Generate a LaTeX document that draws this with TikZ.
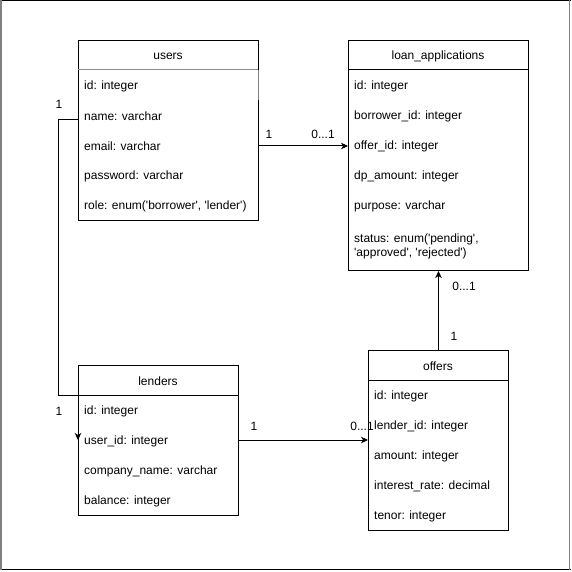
\documentclass[tikz,border=0pt]{standalone}
\usepackage{fontspec}
\setmainfont{Liberation Sans}
\usetikzlibrary{arrows.meta}
\newcommand{\sq}{\textquotesingle}
\begin{document}
\begin{tikzpicture}[x=1pt,y=-1pt,
  every node/.style={font=\fontsize{12}{14}\selectfont, text=black},
  table/.style={draw=black, line width=1pt, fill=white, inner sep=0pt, anchor=north west},
  title/.style={inner sep=0pt, anchor=center},
  field/.style={inner sep=0pt, anchor=west, align=left},
  card/.style={inner sep=0pt, anchor=center},
  link/.style={draw=black, line width=1pt, -{Stealth[length=7pt,width=6.5pt,inset=2pt]}}]
\useasboundingbox (0,0) rectangle (571,572);
% outer frame
\draw[black, line width=1.2pt] (0,0.6) -- (571,0.6);
\draw[black, line width=1.2pt] (0,569.6) -- (571,569.6);
\draw[gray, line width=1.6pt] (0.8,0) -- (0.8,570.2);
\draw[gray, line width=1.6pt] (569.6,0) -- (569.6,570.2);

% users
\node[table, minimum width=180pt, minimum height=180pt] (users) at (78,40) {};
\draw[gray!90, line width=1pt] (78,70) -- (258,70);
\draw[white, line width=1.2pt] (258,71) -- (258,100);
\draw[gray, line width=1pt] (258,70) -- (258,100);
\node[title] (usersT) at (168,56.5) {users};
\node[field] (uid)   at (84,86.5)  {id: integer};
\node[field] (uname) at (84,116.5) {name: varchar};
\node[field] (umail) at (84,146.5) {email: varchar};
\node[field] (upass) at (84,176.5) {password: varchar};
\node[field] (urole) at (84,206.5) {role: enum(\sq borrower\sq, \sq lender\sq)};

% loan_applications
\node[table, minimum width=180pt, minimum height=230pt] (loan) at (348,40) {};
\draw[black, line width=1pt] (348,70) -- (528,70);
\node[title] (loanT) at (438,56.5) {loan\_applications};
\node[field] (lid)   at (354,86.5)  {id: integer};
\node[field] (lbor)  at (354,116.5) {borrower\_id: integer};
\node[field] (loff)  at (354,146.5) {offer\_id: integer};
\node[field] (ldp)   at (354,176.5) {dp\_amount: integer};
\node[field] (lpur)  at (354,206.5) {purpose: varchar};
\node[field] (lstat) at (354,246.5) {status: enum(\sq pending\sq,\\\sq approved\sq, \sq rejected\sq)};

% lenders
\node[table, minimum width=160pt, minimum height=150pt] (lenders) at (78,365) {};
\draw[black, line width=1pt] (78,395) -- (238,395);
\node[title] (lendT) at (158,381.5) {lenders};
\node[field] (nid)   at (84,411.5) {id: integer};
\node[field] (nuid)  at (84,441.5) {user\_id: integer};
\node[field] (ncomp) at (84,471.5) {company\_name: varchar};
\node[field] (nbal)  at (84,501.5) {balance: integer};

% offers
\node[table, minimum width=140pt, minimum height=180pt] (offers) at (368,350) {};
\draw[black, line width=1pt] (368,380) -- (508,380);
\node[title] (offT) at (438,366.5) {offers};
\node[field] (oid)   at (374,396.5) {id: integer};
\node[field] (olend) at (374,426.5) {lender\_id: integer};
\node[field] (oamt)  at (374,456.5) {amount: integer};
\node[field] (orate) at (374,486.5) {interest\_rate: decimal};
\node[field] (oten)  at (374,516.5) {tenor: integer};

% users -> loan_applications
\coordinate (ul) at (258,146);
\draw[link] (users.east |- ul) -- (loan.west |- ul);
\node[card] at (269,134) {1};
\node[card] at (323,134) {0...1};

% users -> lenders
\coordinate (ua) at (78,120);
\coordinate (ub) at (58,120);
\coordinate (uc) at (58,395);
\coordinate (ud) at (78,395);
\coordinate (ue) at (78,440);
\draw[link] (ua) -- (ub) -- (uc) -- (ud) -- (ue);
\node[card] at (59,104.5) {1};
\node[card] at (59,411.5) {1};

% lenders -> offers
\coordinate (lo) at (238,440);
\draw[link] (lenders.east |- lo) -- (offers.west |- lo);
\node[card] at (254,426.5) {1};
\node[card] at (362,426.5) {0...1};

% offers -> loan_applications
\draw[link] (offers.north) -- (loan.south);
\node[card] at (464,286.5) {0...1};
\node[card] at (454,336.5) {1};
\end{tikzpicture}
\end{document}
